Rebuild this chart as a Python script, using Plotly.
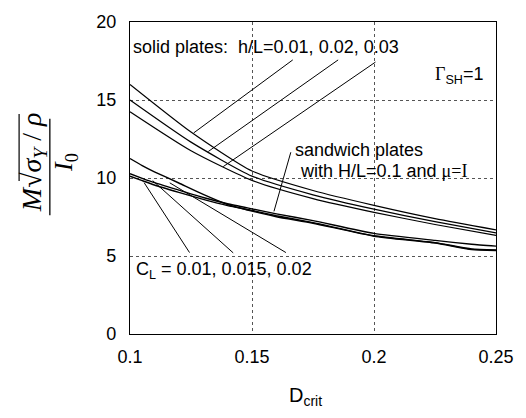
import plotly.graph_objects as go

# Critical damage parameter on the horizontal axis
solid_d = [0.1, 0.125, 0.15, 0.175, 0.2, 0.225, 0.25]
# Solid plates, h/L = 0.01, 0.02, 0.03
solid_h001 = [16.0, 12.95, 10.45, 9.2, 8.25, 7.4, 6.68]
solid_h002 = [15.0, 12.3, 10.12, 8.92, 8.0, 7.2, 6.48]
solid_h003 = [14.25, 11.75, 9.85, 8.68, 7.8, 7.02, 6.32]

# Sandwich plates, H/L = 0.1, mu = 1, three values of C_L
sand_d = [0.1, 0.105, 0.11, 0.12, 0.13, 0.14, 0.15, 0.16, 0.175, 0.2, 0.225, 0.24, 0.25]
sand_a = [10.28, 9.98, 9.7, 9.22, 8.75, 8.35, 8.02, 7.7, 7.27, 6.45, 6.0, 5.75, 5.63]
sand_b = [10.12, 9.83, 9.55, 9.08, 8.63, 8.23, 7.92, 7.58, 7.14, 6.3, 5.86, 5.45, 5.38]
sand_c = [11.25, 10.8, 10.4, 9.68, 8.95, 8.3, 7.88, 7.52, 7.1, 6.27, 5.83, 5.42, 5.35]

# Leader lines from the labels to the curves: (x0, y0, x1, y1)
leaders = [
    (0.1667, 17.57, 0.1261, 12.89),
    (0.1853, 17.57, 0.1321, 11.70),
    (0.2006, 17.43, 0.1382, 10.73),
    (0.1659, 11.65, 0.1590, 7.86),
    (0.1058, 9.70, 0.1244, 5.22),
    (0.1093, 9.83, 0.1423, 5.20),
    (0.1163, 9.69, 0.1639, 5.22),
]

x_ticks = [0.1, 0.15, 0.2, 0.25]
x_tick_text = ["0.1", "0.15", "0.2", "0.25"]
y_ticks = [0, 5, 10, 15, 20]

SANS = "Liberation Sans, Arial, sans-serif"
SERIF = "Liberation Serif, Times New Roman, serif"

fig = go.Figure()

for ys in (solid_h001, solid_h002, solid_h003):
    fig.add_trace(go.Scatter(x=solid_d, y=ys, mode="lines",
                             line=dict(color="black", width=1.2, shape="spline", smoothing=0.6),
                             showlegend=False, hoverinfo="skip"))
for ys in (sand_a, sand_b, sand_c):
    fig.add_trace(go.Scatter(x=sand_d, y=ys, mode="lines",
                             line=dict(color="black", width=1.4, shape="spline", smoothing=0.5),
                             showlegend=False, hoverinfo="skip"))
for x0, y0, x1, y1 in leaders:
    fig.add_trace(go.Scatter(x=[x0, x1], y=[y0, y1], mode="lines",
                             line=dict(color="black", width=1),
                             showlegend=False, hoverinfo="skip"))

ann_font = dict(family=SANS, size=18, color="black")
annotations = [
    dict(x=0.1004, y=18.4, xanchor="left", yanchor="middle",
         text="solid plates:\u00a0 h/L=0.01, 0.02, 0.03"),
    dict(x=0.1668, y=11.8, xanchor="left", yanchor="middle",
         text="sandwich plates"),
    dict(x=0.1688, y=10.42, xanchor="left", yanchor="middle",
         text=f"with H/L=0.1 and <span style='font-family:{SERIF}'>\u03bc=I</span>"),
    dict(x=0.1018, y=4.1, xanchor="left", yanchor="middle",
         text="C<sub>L</sub> = 0.01, 0.015, 0.02"),
    dict(x=0.2243, y=16.6, xanchor="left", yanchor="middle",
         text=f"<span style='font-family:{SERIF}'>\u0393</span><sub>SH</sub>=1"),
]
for a in annotations:
    fig.add_annotation(xref="x", yref="y", showarrow=False, font=ann_font, **a)

# Axis titles
fig.add_annotation(xref="paper", yref="paper", x=0.43, y=-0.155, xanchor="left", yanchor="top",
                   showarrow=False, text="D<sub>crit</sub>",
                   font=dict(family=SANS, size=20, color="black"))
fig.add_annotation(xref="paper", yref="paper", x=-0.263, y=0.55, xanchor="center", yanchor="middle",
                   showarrow=False, textangle=-90,
                   text="<i>M</i>\u221a<i>\u03c3<sub>Y</sub></i> / <i>\u03c1</i>",
                   font=dict(family=SERIF, size=28, color="black"))
fig.add_annotation(xref="paper", yref="paper", x=-0.176, y=0.55, xanchor="center", yanchor="middle",
                   showarrow=False, textangle=-90,
                   text="<i>I</i><sub>0</sub>",
                   font=dict(family=SERIF, size=26, color="black"))
# fraction bar and radical overline
fig.add_shape(type="line", xref="paper", yref="paper", x0=-0.219, x1=-0.219, y0=0.381, y1=0.69,
              line=dict(color="black", width=1.3))
fig.add_shape(type="line", xref="paper", yref="paper", x0=-0.303, x1=-0.303, y0=0.49, y1=0.705,
              line=dict(color="black", width=1.2))

fig.update_layout(
    width=526, height=418,
    margin=dict(l=130, r=20, t=14, b=84),
    paper_bgcolor="white", plot_bgcolor="white",
    font=dict(family=SANS, size=18, color="black"),
    xaxis=dict(range=[0.1, 0.25], tickvals=x_ticks, ticktext=x_tick_text,
               showgrid=True, gridcolor="#555", griddash="dot", gridwidth=1,
               showline=True, linecolor="black", linewidth=1.3, mirror=True,
               ticks="outside", ticklen=6, tickcolor="rgba(0,0,0,0)",
               zeroline=False, tickfont=dict(size=18)),
    yaxis=dict(range=[0, 20], tickvals=y_ticks,
               showgrid=True, gridcolor="#555", griddash="dot", gridwidth=1,
               showline=True, linecolor="black", linewidth=1.3, mirror=True,
               ticks="outside", ticklen=9, tickcolor="rgba(0,0,0,0)",
               zeroline=False, tickfont=dict(size=18)),
)

fig.write_html("out.html")
